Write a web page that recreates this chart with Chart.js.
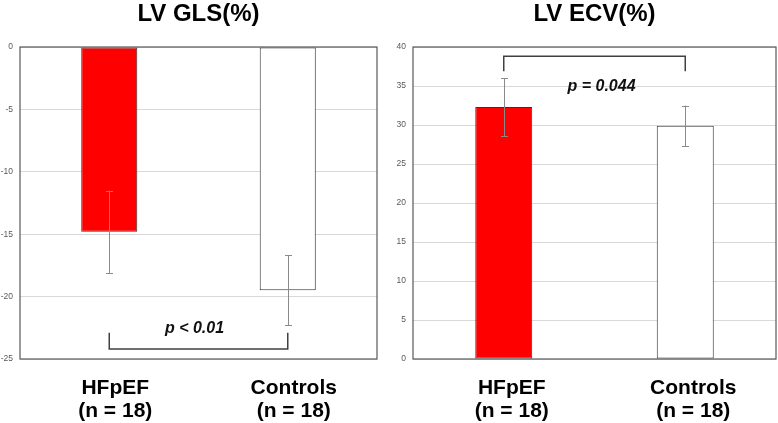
<!DOCTYPE html>
<html>
<head>
<meta charset="utf-8">
<script src="https://cdn.jsdelivr.net/npm/chart.js@4/dist/chart.umd.min.js"></script>
<style>
  html, body { margin: 0; padding: 0; background: #fff; }
  #wrap { position: relative; width: 778px; height: 423px; }
  canvas { position: absolute; top: 0; }
  #gls { left: 0; }
  #ecv { left: 389px; }
</style>
</head>
<body>
<div id="wrap">
  <canvas id="gls" width="389" height="423"></canvas>
  <canvas id="ecv" width="389" height="423"></canvas>
</div>
<script>
  /* Two panels: LV GLS and LV ECV, mean +/- SD, HFpEF vs controls. */
  var categories = [["HFpEF", "(n = 18)"], ["Controls", "(n = 18)"]];
  var glsMean = [-14.8, -19.5];
  var glsSD = [3.3, 2.8];
  var ecvMean = [32.3, 29.9];
  var ecvSD = [3.7, 2.6];
  var glsTicks = { min: -25, max: 0, step: 5 };
  var ecvTicks = { min: 0, max: 40, step: 5 };

  var FONT = "Arial, 'Liberation Sans', sans-serif";

  var panelPlugin = {
    id: "panel",
    afterDatasetsDraw: function (chart) {
      var o = chart.options.plugins.panel;
      var ctx = chart.ctx;
      var a = chart.chartArea;
      var x = chart.scales.x;
      var y = chart.scales.y;
      var ds = chart.data.datasets[0];

      // error bars
      ctx.save();
      ctx.strokeStyle = "#8a8a8a";
      ctx.lineWidth = 1;
      ds.data.forEach(function (v, i) {
        var cx = Math.round(x.getPixelForValue(i)) + 0.5;
        var yTop = y.getPixelForValue(v + o.sd[i]);
        var yBot = y.getPixelForValue(v - o.sd[i]);
        ctx.beginPath();
        ctx.moveTo(cx, yTop); ctx.lineTo(cx, yBot);
        ctx.moveTo(cx - 3.5, Math.round(yTop) + 0.5); ctx.lineTo(cx + 3.5, Math.round(yTop) + 0.5);
        ctx.moveTo(cx - 3.5, Math.round(yBot) + 0.5); ctx.lineTo(cx + 3.5, Math.round(yBot) + 0.5);
        ctx.stroke();
      });

      // significance bracket
      var x0 = x.getPixelForValue(0), x1 = x.getPixelForValue(1);
      var yb = y.getPixelForValue(o.bracket.at);
      var ye = y.getPixelForValue(o.bracket.end);
      ctx.strokeStyle = "#404040";
      ctx.lineWidth = 1.5;
      ctx.beginPath();
      ctx.moveTo(x0, ye); ctx.lineTo(x0, yb); ctx.lineTo(x1, yb); ctx.lineTo(x1, ye);
      ctx.stroke();

      ctx.fillStyle = "#111";
      ctx.font = "italic bold 16px " + FONT;
      ctx.textAlign = "center";
      ctx.textBaseline = "middle";
      ctx.fillText(o.pText, (x0 + x1) / 2 + o.bracket.textShift, y.getPixelForValue(o.bracket.textAt));

      // plot frame
      ctx.strokeStyle = "#595959";
      ctx.lineWidth = 1.2;
      ctx.strokeRect(a.left, a.top, a.right - a.left, a.bottom - a.top);

      // title centred on the plot area
      ctx.fillStyle = "#000";
      ctx.font = "bold 24px " + FONT;
      ctx.fillText(o.title, (a.left + a.right) / 2, 14);
      ctx.restore();
    }
  };

  function makePanel(id, title, means, sds, ticks, yWidth, padRight, labelShift, pText, bracket) {
    new Chart(document.getElementById(id), {
      type: "bar",
      data: {
        labels: categories,
        datasets: [{
          data: means,
          backgroundColor: ["#ff0000", "#ffffff"],
          borderColor: "#333333",
          borderWidth: 1,
          borderSkipped: false,
          barPercentage: 0.314,
          categoryPercentage: 1
        }]
      },
      options: {
        responsive: false,
        animation: false,
        layout: { padding: { top: 47, right: padRight, bottom: 0, left: 0 } },
        plugins: {
          legend: { display: false },
          tooltip: { enabled: false },
          title: { display: false },
          panel: { title: title, sd: sds, pText: pText, bracket: bracket }
        },
        scales: {
          x: {
            grid: { display: false, drawTicks: false },
            border: { display: false },
            ticks: {
              color: "#000",
              padding: 18,
              labelOffset: labelShift,
              font: { family: FONT, size: 21, weight: "bold", lineHeight: 1.1 }
            },
            afterFit: function (scale) { scale.height = 64; }
          },
          y: {
            min: ticks.min,
            max: ticks.max,
            grid: { color: "#d9d9d9", lineWidth: 1, drawTicks: false },
            border: { display: false },
            ticks: {
              stepSize: ticks.step,
              color: "#595959",
              padding: 7,
              font: { family: FONT, size: 8.5 }
            },
            afterFit: function (scale) { scale.width = yWidth; }
          }
        }
      },
      plugins: [panelPlugin]
    });
  }

  makePanel("gls", "LV GLS(%)", glsMean, glsSD, glsTicks, 20, 12, 6, "p < 0.01",
    { at: -24.2, end: -22.9, textAt: -22.6, textShift: -4 });
  makePanel("ecv", "LV ECV(%)", ecvMean, ecvSD, ecvTicks, 24, 2, 8, "p = 0.044",
    { at: 38.8, end: 36.9, textAt: 34.9, textShift: 7 });
</script>
</body>
</html>
